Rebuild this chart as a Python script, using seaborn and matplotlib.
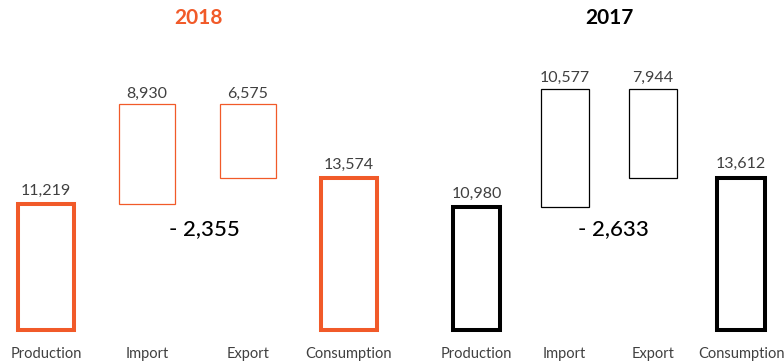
import numpy as np
import pandas as pd
import matplotlib
matplotlib.use("Agg")
import matplotlib.pyplot as plt
import seaborn as sns

# ---------------- data ----------------
categories = ["Production", "Import", "Export", "Consumption"]
years = ["2018", "2017"]
production = [11219, 10980]
imports = [8930, 10577]
exports = [6575, 7944]
consumption = [13574, 13612]
year_colors = ["#F15A29", "#000000"]

# ---------------- style ----------------
sns.set_theme(style="white")
plt.rcParams["font.family"] = ["Lato", "DejaVu Sans"]

W, H = 784, 364
fig = plt.figure(figsize=(W / 100, H / 100), dpi=100)

# layout (pixels): centre of first category and spacing for each panel
panel_px = [(46, 101), (476.5, 88.2)]
bar_w = [0.555, 0.54]
zero_px, top_px = 330, 40
scale = 0.0112  # px per unit
ymax = (zero_px - top_px) / scale
net_x = [1.57, 1.55]

for i, year in enumerate(years):
    c0, sp = panel_px[i]
    xl, xr = -0.45, 3.47
    left, right = c0 + xl * sp, c0 + xr * sp
    ax = fig.add_axes([left / W, (H - zero_px) / H, (right - left) / W,
                       (zero_px - top_px) / H])
    col = year_colors[i]

    totals = pd.DataFrame({"category": ["Production", "Consumption"],
                           "value": [production[i], consumption[i]]})
    flows = pd.DataFrame({"category": ["Import", "Export"],
                          "value": [imports[i], exports[i]],
                          "base": [production[i],
                                   production[i] + imports[i] - exports[i]]})

    sns.barplot(data=totals, x="category", y="value", order=categories,
                width=bar_w[i], fill=False, color=col, linewidth=2.9,
                errorbar=None, ax=ax, clip_on=False)
    sns.barplot(data=flows, x="category", y="value", order=categories,
                width=bar_w[i], fill=False, color=col, linewidth=0.9,
                errorbar=None, ax=ax, bottom=flows["base"].values,
                clip_on=False)

    # value labels
    for _, r in totals.iterrows():
        ax.annotate(f"{r['value']:,}", (categories.index(r["category"]), r["value"]),
                    xytext=(0, 4.5), textcoords="offset points", ha="center",
                    va="bottom", fontsize=11.5, color="#404040")
    for _, r in flows.iterrows():
        ax.annotate(f"{r['value']:,}",
                    (categories.index(r["category"]), r["base"] + r["value"]),
                    xytext=(0, 2.5), textcoords="offset points", ha="center",
                    va="bottom", fontsize=11.5, color="#404040")

    # net balance label
    ax.annotate(f"- {imports[i] - exports[i]:,}", (net_x[i], 0.348),
                xycoords=("data", "axes fraction"), ha="center", va="center",
                fontsize=16, color="#000000", fontweight="medium")

    ax.set_xlim(xl, xr)
    ax.set_ylim(0, ymax)
    ax.set_xticks(range(len(categories)))
    ax.set_xticklabels(categories, fontsize=10.5, color="#404040")
    ax.tick_params(axis="x", length=0, pad=12)
    ax.set_yticks([])
    ax.set_xlabel("")
    ax.set_ylabel("")
    ax.set_facecolor("none")
    sns.despine(ax=ax, left=True, bottom=True)

    fig.text((left + right) / 2 / W, 1 - 18 / H, year, ha="center",
             va="center", fontsize=15, fontweight="bold", color=col)

fig.savefig("out.png", dpi=100)
